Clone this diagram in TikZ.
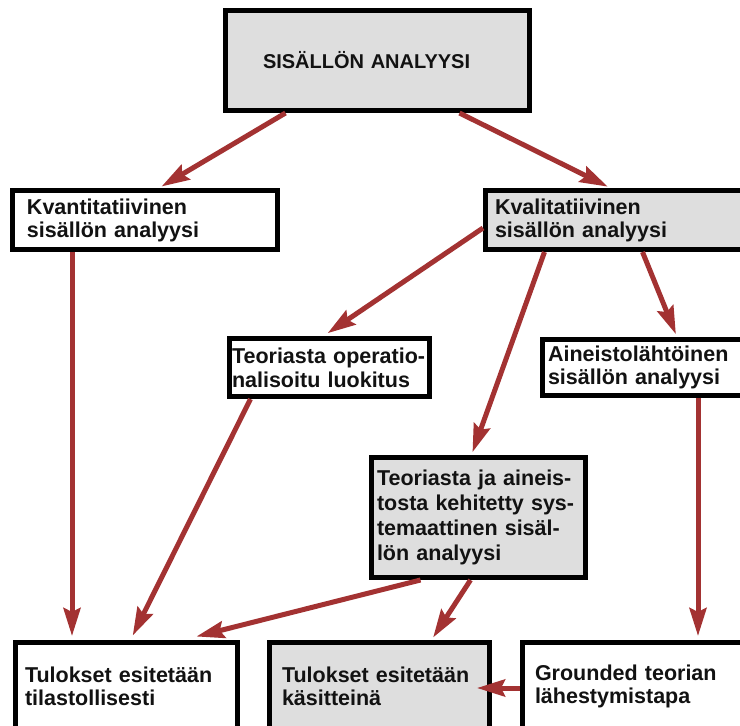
\documentclass[tikz,border=0pt]{standalone}
\usepackage{fontspec}
\setmainfont{Liberation Sans}
\usepackage{tikz}
\usetikzlibrary{arrows.meta}
\definecolor{arrowred}{RGB}{163,50,50}
\definecolor{boxgray}{RGB}{222,222,222}
\definecolor{textgray}{RGB}{18,18,18}

\begin{document}
\begin{tikzpicture}[x=1pt, y=-1pt,
  box/.style={draw=black, line width=5pt, align=left, inner ysep=0pt,
    text=textgray, font=\fontsize{21.5pt}{23pt}\selectfont\bfseries},
  graybox/.style={box, fill=boxgray},
  arr/.style={arrowred, line width=5pt,
    -{Stealth[length=28pt, width=17pt, inset=4pt]}}]
\useasboundingbox (0,0) rectangle (740,726);
\clip (0,0) rectangle (740,726);

% top
\node[graybox, minimum width=304pt, minimum height=100pt, text width=229pt, inner xsep=37.5pt,
  font=\fontsize{20pt}{23pt}\selectfont\bfseries] (title) at (377.5,60.5) {SISÄLLÖN ANALYYSI};

% second row
\node[box, fill=white, minimum width=265pt, minimum height=59pt, text width=236pt, inner xsep=14.5pt]
  (kvant) at (145,220) {Kvantitatiivinen\\sisällön analyysi};
\node[graybox, minimum width=258pt, minimum height=59pt, text width=239pt, inner xsep=9.5pt]
  (kvali) at (614.5,220) {Kvalitatiivinen\\sisällön analyysi};

% third row
\node[box, fill=white, minimum width=200pt, minimum height=58pt, text width=195pt, inner xsep=2.5pt,
  font=\fontsize{21.5pt}{24pt}\selectfont\bfseries]
  (teorop) at (329.5,367.5) {\mbox{Teoriasta operatio-}\\nalisoitu luokitus};
\node[box, fill=white, minimum width=201pt, minimum height=56pt, text width=190pt, inner xsep=5.5pt]
  (aineis) at (643,367.5) {Aineistolähtöinen\\sisällön analyysi};
\node[graybox, minimum width=214pt, minimum height=120pt, text width=203pt, inner xsep=5.5pt,
  font=\fontsize{21.5pt}{25pt}\selectfont\bfseries]
  (teorai) at (478.5,517.5) {Teoriasta ja aineis-\\tosta kehitetty sys-\\temaattinen sisäl-\\lön analyysi};

% bottom row
\node[box, fill=white, minimum width=222pt, minimum height=87pt, text width=203pt, inner xsep=9.5pt]
  (tilasto) at (126.5,686) {Tulokset esitetään\\tilastollisesti};
\node[graybox, minimum width=220pt, minimum height=87pt, text width=195pt, inner xsep=12.5pt]
  (kasite) at (379.5,686) {Tulokset esitetään\\käsitteinä};
\node[box, fill=white, minimum width=221pt, minimum height=87pt, text width=196pt, inner xsep=12.5pt]
  (grounded) at (633,686) {Grounded teorian\\lähestymistapa};

% arrows
\draw[arr, shorten >=3pt] ([xshift=-92pt]title.south) -- ([xshift=14pt]kvant.north);
\draw[arr, shorten >=3pt] ([xshift=82pt]title.south) -- ([xshift=-4pt]kvali.north);
\draw[arr, shorten >=4pt] ([xshift=-73pt]kvant.south) -- ([xshift=-54.5pt]tilasto.north);
\draw[arr, shorten >=5pt] ([yshift=-8pt]kvali.west) -- ([xshift=-6pt]teorop.north);
\draw[arr, shorten >=3pt] ([xshift=-70pt]kvali.south) -- ([xshift=-7pt]teorai.north);
\draw[arr, shorten >=3pt] ([xshift=28pt]kvali.south) -- ([xshift=34pt]aineis.north);
\draw[arr, shorten >=5pt] ([xshift=-79pt]teorop.south) -- ([xshift=4pt]tilasto.north);
\draw[arr, shorten >=4pt] ([xshift=55pt]aineis.south) -- ([xshift=65pt]grounded.north);
\draw[arr, shorten >=2pt] ([xshift=-58pt]teorai.south) -- ([xshift=68pt,yshift=3pt]tilasto.north);
\draw[arr, shorten >=3pt] ([xshift=-8pt]teorai.south) -- ([xshift=52pt]kasite.north);
\draw[arr] ([yshift=-2pt]grounded.west) -- ([xshift=-15pt,yshift=-2pt]kasite.east);
\end{tikzpicture}
\end{document}
